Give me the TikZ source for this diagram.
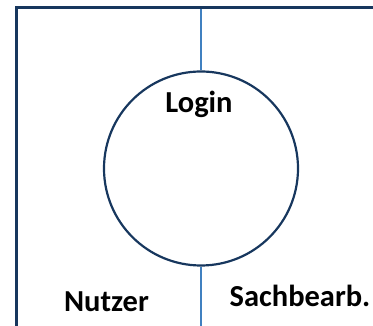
\documentclass[tikz,border=0pt]{standalone}
\usepackage{fontspec}
\setmainfont{Carlito}
\definecolor{frame}{HTML}{17375E}
\definecolor{lane}{HTML}{4080C0}
\tikzset{
  lbl/.style={font=\fontsize{30.5}{36}\selectfont\bfseries, inner sep=0pt, anchor=base},
  rim/.style={draw=frame, line width=2.6pt},
  divider/.style={draw=lane, line width=1.4pt}
}
\begin{document}
\begin{tikzpicture}[x=1pt,y=-1pt]
\useasboundingbox (0,0) rectangle (373,326);
% pool frame: top and left edges
\coordinate (tl) at (16.5,7.5);
\coordinate (tr) at (375,7.5);
\coordinate (bl) at (16.5,328);
% lane divider
\coordinate (dtop) at (201,7.5);
\coordinate (dbot) at (201,328);
\node[circle, draw=frame, line width=2.2pt, minimum size=194pt, inner sep=0pt] (login) at (201,168.5) {};
\draw[divider] (dtop) -- (login.north);
\draw[divider] (login.south) -- (dbot);
\draw[rim] (tr) -- (tl) -- (bl);
% labels
\node[lbl] (logintxt) at (199,112.7) {Login};
\node[lbl] (nutzer) at (106.5,311.7) {Nutzer};
\node[lbl] (sach) at (300,307) {Sachbearb.};
\end{tikzpicture}
\end{document}
